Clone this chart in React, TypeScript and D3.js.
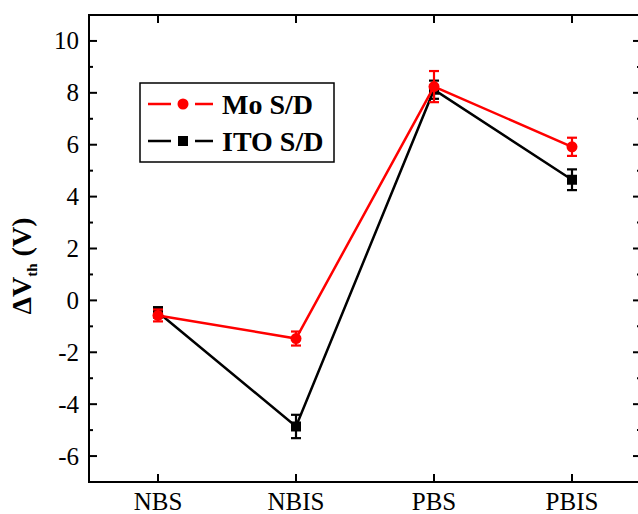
import React from "react";
import * as d3 from "d3";

const categories = ["NBS", "NBIS", "PBS", "PBIS"];
const moValues = [-0.58, -1.47, 8.24, 5.92];
const moErrors = [0.23, 0.27, 0.6, 0.35];
const itoValues = [-0.46, -4.86, 8.12, 4.65];
const itoErrors = [0.2, 0.45, 0.35, 0.4];
const yMajorTicks = [-6, -4, -2, 0, 2, 4, 6, 8, 10];
const yMinorTicks = [-7, -5, -3, -1, 1, 3, 5, 7, 9, 11];

const W = 638;
const H = 514;
const left = 89;
const right = 641;
const top = 15;
const bottom = 482;
const FONT = "Liberation Serif, Times New Roman, Times, serif";

export default function App() {
  const x = d3.scalePoint<string>().domain(categories).range([left, right]).padding(0.5);
  const y = d3.scaleLinear().domain([-7, 11]).range([bottom, top]);
  const line = d3
    .line<number>()
    .x((_, i) => x(categories[i]) as number)
    .y((d) => y(d));

  const series = [
    { name: "ITO S/D", values: itoValues, errors: itoErrors, color: "#000000", marker: "square" },
    { name: "Mo S/D", values: moValues, errors: moErrors, color: "#ff0000", marker: "circle" },
  ];

  const cap = 5;
  const majorLen = 8;
  const minorLen = 4;
  const txt = { fontFamily: FONT } as React.CSSProperties;

  return (
    <svg
      width={W}
      height={H}
      style={{ position: "absolute", left: 0, top: 0, background: "#fff", fontFamily: FONT }}
    >
      <rect x={0} y={0} width={W} height={H} fill="#fff" />
      {series.map((s) => (
        <g key={s.name}>
          <path d={line(s.values) || ""} fill="none" stroke={s.color} strokeWidth={2.5} />
          {s.values.map((v, i) => {
            const cx = x(categories[i]) as number;
            const y1 = y(v + s.errors[i]);
            const y2 = y(v - s.errors[i]);
            return (
              <g key={i} stroke={s.color} strokeWidth={2.2}>
                <line x1={cx} x2={cx} y1={y1} y2={y2} />
                <line x1={cx - cap} x2={cx + cap} y1={y1} y2={y1} />
                <line x1={cx - cap} x2={cx + cap} y1={y2} y2={y2} />
                {s.marker === "circle" ? (
                  <circle cx={cx} cy={y(v)} r={5.5} fill={s.color} stroke="none" />
                ) : (
                  <rect x={cx - 5} y={y(v) - 5} width={10} height={10} fill={s.color} stroke="none" />
                )}
              </g>
            );
          })}
        </g>
      ))}
      <rect
        x={left}
        y={top}
        width={right - left}
        height={bottom - top}
        fill="none"
        stroke="#000"
        strokeWidth={2}
      />
      {yMajorTicks.map((t) => (
        <g key={"ym" + t}>
          <line x1={left} x2={left + majorLen} y1={y(t)} y2={y(t)} stroke="#000" strokeWidth={2} />
          <line x1={right} x2={right - majorLen} y1={y(t)} y2={y(t)} stroke="#000" strokeWidth={2} />
          <text
            x={left - 10}
            y={y(t)}
            textAnchor="end"
            dominantBaseline="central"
            style={txt}
            fontSize={25}
          >
            {t}
          </text>
        </g>
      ))}
      {yMinorTicks.map((t) => (
        <g key={"yn" + t}>
          <line x1={left} x2={left + minorLen} y1={y(t)} y2={y(t)} stroke="#000" strokeWidth={2} />
          <line x1={right} x2={right - minorLen} y1={y(t)} y2={y(t)} stroke="#000" strokeWidth={2} />
        </g>
      ))}
      {categories.map((c) => {
        const cx = x(c) as number;
        return (
          <g key={c}>
            <line x1={cx} x2={cx} y1={bottom} y2={bottom - majorLen} stroke="#000" strokeWidth={2} />
            <line x1={cx} x2={cx} y1={top} y2={top + majorLen} stroke="#000" strokeWidth={2} />
            <text x={cx} y={510} textAnchor="middle" style={txt} fontSize={25}>
              {c}
            </text>
          </g>
        );
      })}
      <text
        transform="translate(31,266) rotate(-90)"
        textAnchor="middle"
        style={txt}
        fontSize={28}
        fontWeight="bold"
      >
        ΔV
        <tspan fontSize={15} dy={6}>th</tspan>
        <tspan dy={-6}> (V)</tspan>
      </text>
      <rect x={140} y={83} width={194} height={79} fill="#fff" stroke="#000" strokeWidth={1.5} />
      {[
        { label: "Mo S/D", color: "#ff0000", marker: "circle", ly: 104 },
        { label: "ITO S/D", color: "#000000", marker: "square", ly: 141 },
      ].map((l) => (
        <g key={l.label}>
          <line x1={148} x2={213} y1={l.ly} y2={l.ly} stroke={l.color} strokeWidth={2.5} />
          <rect x={171} y={l.ly - 3} width={24} height={6} fill="#fff" />
          {l.marker === "circle" ? (
            <circle cx={183} cy={l.ly} r={5.5} fill={l.color} />
          ) : (
            <rect x={178} y={l.ly - 5} width={10} height={10} fill={l.color} />
          )}
          <text
            x={222}
            y={l.ly}
            dominantBaseline="central"
            style={txt}
            fontSize={28}
            fontWeight="bold"
          >
            {l.label}
          </text>
        </g>
      ))}
    </svg>
  );
}
